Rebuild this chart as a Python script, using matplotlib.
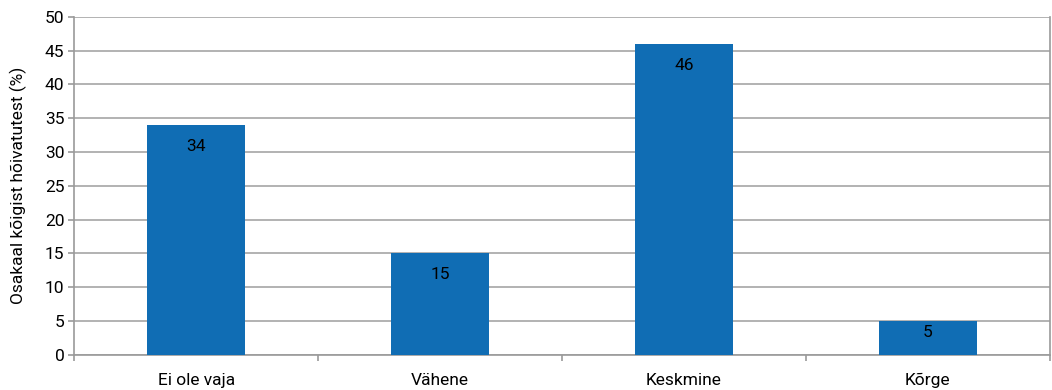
import matplotlib.pyplot as plt

plt.rcParams['font.family'] = ['Roboto', 'DejaVu Sans']

categories = ['Ei ole vaja', 'Vähene', 'Keskmine', 'Kõrge']
values = [34, 15, 46, 5]
y_label = 'Osakaal kõigist hõivatutest (%)'

fig, ax = plt.subplots(figsize=(10.52, 3.9), dpi=100)
fig.subplots_adjust(left=0.0705, right=0.998, top=0.957, bottom=0.09)

x = list(range(len(categories)))
bars = ax.bar(x, values, width=0.4, color='#106db4', zorder=3)

# labels sit just inside the bar top, but never sink below the base
for xi, v in zip(x, values):
    ax.text(xi, max(v - 3.15, 3.3), str(v), ha='center', va='center',
            fontsize=12.5, color='black', zorder=4)

ax.set_xlim(-0.5, len(categories) - 0.5)
ax.set_ylim(0, 50)
ax.set_yticks(range(0, 51, 5))
ax.set_xticks(x)
ax.set_xticklabels(categories, fontsize=12.5)
ax.set_xticks([i - 0.5 for i in range(len(categories) + 1)], minor=True)
ax.tick_params(axis='x', which='major', length=0, pad=13)
ax.tick_params(axis='x', which='minor', length=4, color='#9a9a9a', width=1.2)
ax.tick_params(axis='y', length=4, color='#9a9a9a', width=1.2, labelsize=12.5, pad=3)
ax.set_ylabel(y_label, fontsize=12.5, labelpad=13)

ax.yaxis.grid(True, color='#a6a6a6', linewidth=1.2, zorder=0)
ax.set_axisbelow(True)
for side in ['top']:
    ax.spines[side].set_visible(False)
for side in ['left', 'right', 'bottom']:
    ax.spines[side].set_color('#9a9a9a')
    ax.spines[side].set_linewidth(1.2)

fig.savefig('out.png')
